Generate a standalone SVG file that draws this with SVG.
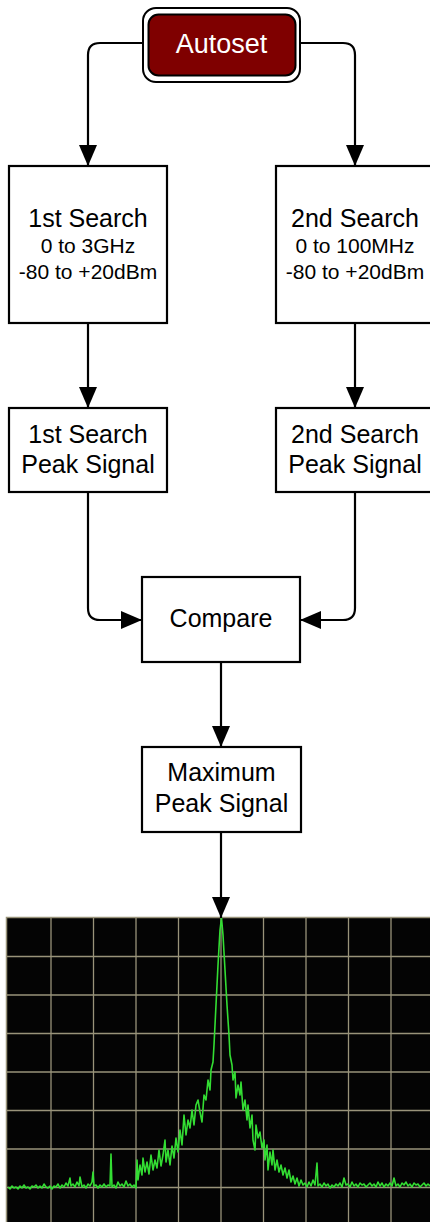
<svg xmlns="http://www.w3.org/2000/svg" width="430" height="1222" viewBox="0 0 430 1222">
<style>
.box{fill:#fff;stroke:#000;stroke-width:2.2}
.t{font-family:"Liberation Sans",Arial,sans-serif;font-size:25px;fill:#000;text-anchor:middle}
.s{font-family:"Liberation Sans",Arial,sans-serif;font-size:21px;fill:#000;text-anchor:middle}
.c{fill:none;stroke:#000;stroke-width:2.2}
.g{stroke:#99937a;stroke-width:1.3}
</style>
<defs>
<marker id="ah" markerWidth="21" markerHeight="18" refX="21" refY="9" orient="auto" markerUnits="userSpaceOnUse">
<path d="M0,0 L21,9 L0,18 Z" fill="#000"/>
</marker>
</defs>
<rect width="430" height="1222" fill="#fff"/>

<g id="screen">
<rect x="6.5" y="917.5" width="430" height="310" fill="#040404" stroke="#99937a" stroke-width="1.5"/>
<g class="g">
<line x1="51" y1="918" x2="51" y2="1222"/>
<line x1="93.5" y1="918" x2="93.5" y2="1222"/>
<line x1="136" y1="918" x2="136" y2="1222"/>
<line x1="178.5" y1="918" x2="178.5" y2="1222"/>
<line x1="221" y1="918" x2="221" y2="1222"/>
<line x1="263.5" y1="918" x2="263.5" y2="1222"/>
<line x1="306" y1="918" x2="306" y2="1222"/>
<line x1="348.5" y1="918" x2="348.5" y2="1222"/>
<line x1="391" y1="918" x2="391" y2="1222"/>
<line x1="7" y1="956.5" x2="430" y2="956.5"/>
<line x1="7" y1="995" x2="430" y2="995"/>
<line x1="7" y1="1033.5" x2="430" y2="1033.5"/>
<line x1="7" y1="1072" x2="430" y2="1072"/>
<line x1="7" y1="1110.5" x2="430" y2="1110.5"/>
<line x1="7" y1="1149" x2="430" y2="1149"/>
<line x1="7" y1="1187.5" x2="430" y2="1187.5"/>
</g>
<polyline fill="none" stroke="#33dd33" stroke-width="1.6" stroke-linejoin="round" points="8,1187 10,1189 12,1186 14,1188 16,1187 18,1189 20,1186 22,1188 24,1185 26,1188 28,1187 30,1189 32,1186 34,1187 36,1185 38,1188 40,1186 42,1188 44,1184 46,1187 48,1188 50,1186 52,1189 54,1186 56,1187 58,1184 60,1188 62,1185 64,1187 66,1183 68,1186 70,1178 71,1186 73,1184 75,1187 77,1182 79,1186 80,1177 82,1187 84,1185 86,1188 88,1184 90,1186 92,1182 93,1172 94,1186 96,1185 98,1188 100,1185 102,1187 104,1184 106,1187 108,1185 110,1186 111,1154 112,1187 114,1185 116,1188 118,1182 120,1186 122,1184 124,1187 126,1181 128,1186 130,1184 132,1187 134,1185 136,1188 137,1160 138,1180 140,1165 142,1175 143,1158 145,1172 147,1162 149,1174 151,1155 153,1170 155,1160 157,1168 159,1150 161,1166 163,1155 165,1140 166,1162 168,1150 170,1165 172,1146 174,1158 176,1138 178,1152 180,1130 182,1145 184,1115 186,1135 188,1120 190,1128 192,1110 194,1125 196,1105 198,1100 200,1112 202,1122 204,1095 206,1100 208,1080 210,1090 211,1070 213,1062 214,1045 216,1005 218,965 220,930 221.5,918 223,935 225,970 227,1005 229,1035 230,1055 232,1065 233,1080 235,1072 236,1098 238,1085 240,1095 241,1082 243,1110 245,1100 247,1120 248,1105 250,1128 252,1115 253,1140 255,1150 256,1125 258,1138 260,1132 262,1148 264,1140 265,1160 267,1145 268,1170 270,1152 272,1165 273,1150 275,1170 277,1160 279,1172 281,1165 283,1175 285,1168 287,1178 289,1170 291,1182 293,1176 295,1184 297,1178 299,1186 301,1180 303,1185 305,1183 307,1187 309,1182 311,1186 313,1180 315,1185 317,1163 318,1186 320,1184 322,1187 324,1183 326,1186 328,1184 330,1188 332,1185 334,1187 336,1184 338,1186 340,1183 342,1187 344,1178 346,1185 348,1184 350,1187 352,1182 354,1186 356,1184 358,1187 360,1183 362,1185 364,1184 366,1187 368,1185 370,1183 372,1186 374,1184 376,1187 378,1182 380,1186 382,1183 384,1187 386,1184 388,1186 390,1183 392,1186 394,1178 396,1186 398,1184 400,1187 402,1183 404,1185 406,1182 408,1186 410,1184 412,1187 414,1183 416,1185 418,1184 420,1187 422,1185 424,1183 426,1186 428,1184 430,1186"/>
</g>

<g id="connectors">
<path class="c" d="M143,43 H100 Q88,43 88,55 V166" marker-end="url(#ah)"/>
<path class="c" d="M300,43 H343 Q355,43 355,55 V166" marker-end="url(#ah)"/>
<path class="c" d="M88,323 V408" marker-end="url(#ah)"/>
<path class="c" d="M355,323 V408" marker-end="url(#ah)"/>
<path class="c" d="M88,492 V608 Q88,620 100,620 H142" marker-end="url(#ah)"/>
<path class="c" d="M355,492 V608 Q355,620 343,620 H300" marker-end="url(#ah)"/>
<path class="c" d="M221,662 V747" marker-end="url(#ah)"/>
<path class="c" d="M221,832 V918" marker-end="url(#ah)"/>
</g>

<g id="autoset">
<rect x="143" y="8" width="157" height="74" rx="13" fill="#fff" stroke="#000" stroke-width="2"/>
<rect x="148.5" y="14.5" width="147" height="61" rx="10" fill="#7f0000" stroke="#000" stroke-width="2"/>
<text x="221.5" y="53" font-family="Liberation Sans,Arial,sans-serif" font-size="27" fill="#fff" text-anchor="middle">Autoset</text>
</g>

<g id="search1">
<rect class="box" x="9" y="166" width="158" height="157"/>
<text class="t" x="88" y="227">1st Search</text>
<text class="s" x="88" y="253">0 to 3GHz</text>
<text class="s" x="88" y="279">-80 to +20dBm</text>
</g>

<g id="search2">
<rect class="box" x="276" y="166" width="158" height="157"/>
<text class="t" x="355" y="227">2nd Search</text>
<text class="s" x="355" y="253">0 to 100MHz</text>
<text class="s" x="355" y="279">-80 to +20dBm</text>
</g>

<g id="peak1">
<rect class="box" x="9" y="408" width="158" height="84"/>
<text class="t" x="88" y="443">1st Search</text>
<text class="t" x="88" y="473">Peak Signal</text>
</g>

<g id="peak2">
<rect class="box" x="276" y="408" width="158" height="84"/>
<text class="t" x="355" y="443">2nd Search</text>
<text class="t" x="355" y="473">Peak Signal</text>
</g>

<g id="compare">
<rect class="box" x="142" y="577" width="158" height="85"/>
<text class="t" x="221" y="627">Compare</text>
</g>

<g id="maxpeak">
<rect class="box" x="142" y="747" width="159" height="85"/>
<text class="t" x="221.5" y="781">Maximum</text>
<text class="t" x="221.5" y="812">Peak Signal</text>
</g>
</svg>
